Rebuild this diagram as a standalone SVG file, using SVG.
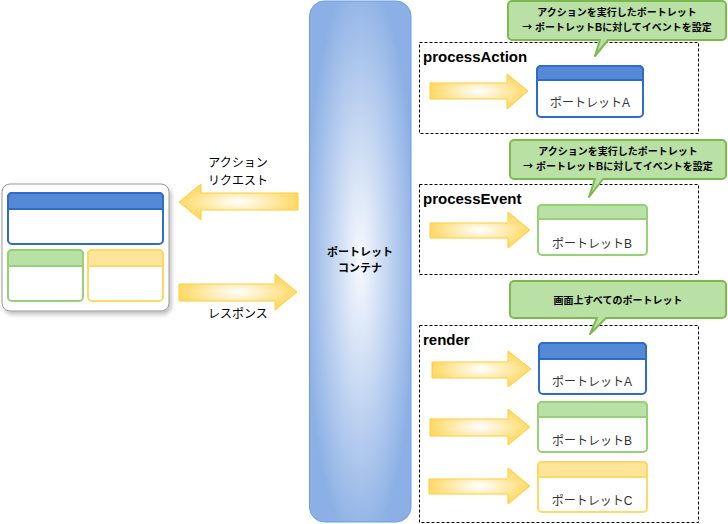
<svg xmlns="http://www.w3.org/2000/svg" width="728" height="524" viewBox="0 0 728 524">
<defs>
<radialGradient id="gCont" cx="0.5" cy="0.5" r="0.55">
<stop offset="0" stop-color="#F8FAFE"/>
<stop offset="1" stop-color="#8CB0E5"/>
</radialGradient>
<radialGradient id="gArr" cx="0.5" cy="0.5" r="0.5">
<stop offset="0" stop-color="#FFFFFF"/>
<stop offset="1" stop-color="#FFD966"/>
</radialGradient>
<filter id="sh" x="-10%" y="-10%" width="120%" height="130%">
<feDropShadow dx="2" dy="3" stdDeviation="2" flood-color="#000" flood-opacity="0.25"/>
</filter>
</defs>
<style>
text{font-family:"Liberation Sans","Noto Sans CJK JP",sans-serif;fill:#000}
.arr{fill:url(#gArr);stroke:#FFCD38;stroke-width:1}
.dash{fill:none;stroke:#000;stroke-dasharray:3 2;stroke-width:1}
.bB{fill:#fff;stroke:#2F6BCB;stroke-width:2}
.hB{fill:#5589D6}
.bG{fill:#fff;stroke:#97D077;stroke-width:2}
.hG{fill:#B9E0A5}
.bY{fill:#fff;stroke:#FFD966;stroke-width:2}
.hY{fill:#FFE599}
.call{fill:#B9E0A5;stroke:#7CBA4D;stroke-width:2;stroke-linejoin:round}
.lbl{font-size:12px;fill:#333}
.sec{font-size:15px;font-weight:bold}
.ct{font-size:10px;font-weight:bold}
.jp{font-family:"Noto Sans CJK JP",sans-serif}
</style>

<g id="browser">
<rect x="2" y="184" width="167" height="127" rx="8" fill="#fff" stroke="#999" stroke-width="1" filter="url(#sh)"/>
<rect x="8" y="193" width="155" height="51" rx="4" class="bB"/>
<path d="M12,193 H159 A4,4 0 0 1 163,197 V209 H8 V197 A4,4 0 0 1 12,193 Z" class="hB" stroke="#2F6BCB" stroke-width="2"/>
<rect x="8" y="250" width="75" height="51" rx="4" class="bG"/>
<path d="M12,250 H79 A4,4 0 0 1 83,254 V266 H8 V254 A4,4 0 0 1 12,250 Z" class="hG" stroke="#97D077" stroke-width="2"/>
<rect x="88" y="250" width="75" height="51" rx="4" class="bY"/>
<path d="M92,250 H159 A4,4 0 0 1 163,254 V266 H88 V254 A4,4 0 0 1 92,250 Z" class="hY" stroke="#FFD966" stroke-width="2"/>
</g>

<g id="container">
<rect x="309.5" y="1" width="101.5" height="521" rx="15" fill="url(#gCont)" stroke="#6D9EE0" stroke-width="1"/>
<text x="360" y="256" text-anchor="middle" font-size="11" font-weight="bold">ポートレット</text>
<text x="360" y="272" text-anchor="middle" font-size="11" font-weight="bold">コンテナ</text>
</g>

<g id="phaseAction">
<rect x="419.5" y="42.5" width="279" height="91" class="dash"/>
<text x="423" y="62" class="sec">processAction</text>
</g>
<g id="phaseEvent">
<rect x="419.5" y="184.5" width="279" height="90" class="dash"/>
<text x="423" y="204" class="sec">processEvent</text>
</g>
<g id="phaseRender">
<rect x="419.5" y="325.5" width="279" height="197" class="dash"/>
<text x="423" y="345" class="sec">render</text>
</g>

<g id="connectors">
<path class="arr" d="M298,193 H201 V184 L179,202 L201,220 V210 H298 Z"/>
<path class="arr" d="M179,284 H275 V274 L297,292 L275,310 V301 H179 Z"/>
<path class="arr" d="M430,83 H507 V74 L528,91 L507,109 V99 H430 Z"/>
<path class="arr" d="M430,223 H508 V212 L530,230 L508,248 V238 H430 Z"/>
<path class="arr" d="M432,362 H508 V351 L531,369 L508,387 V378 H432 Z"/>
<path class="arr" d="M430,419 H508 V409 L530,427 L508,445 V436 H430 Z"/>
<path class="arr" d="M429,479 H508 V468 L530,486 L508,504 V494 H429 Z"/>
</g>

<g id="labels">
<text x="238" y="167" text-anchor="middle" font-size="12" fill="#333">アクション</text>
<text x="238" y="185" text-anchor="middle" font-size="12" fill="#333">リクエスト</text>
<text x="238" y="318" text-anchor="middle" font-size="12" fill="#333">レスポンス</text>
</g>

<g id="callout1">
<path class="call" d="M512,1 H722 A4,4 0 0 1 726,5 V36 A4,4 0 0 1 722,40 H608 L595,56 L600,40 H512 A4,4 0 0 1 508,36 V5 A4,4 0 0 1 512,1 Z"/>
<text x="617" y="16" text-anchor="middle" class="ct">アクションを実行したポートレット</text>
<text x="617" y="31" text-anchor="middle" class="ct"><tspan class="jp">→</tspan> ポートレットBに対してイベントを設定</text>
</g>
<g id="callout2">
<path class="call" d="M514,140 H722 A4,4 0 0 1 726,144 V175 A4,4 0 0 1 722,179 H603 L589,197 L595,179 H514 A4,4 0 0 1 510,175 V144 A4,4 0 0 1 514,140 Z"/>
<text x="618" y="155" text-anchor="middle" class="ct">アクションを実行したポートレット</text>
<text x="618" y="170" text-anchor="middle" class="ct"><tspan class="jp">→</tspan> ポートレットBに対してイベントを設定</text>
</g>
<g id="callout3">
<path class="call" d="M514,281 H722 A4,4 0 0 1 726,285 V314 A4,4 0 0 1 722,318 H606 L590,334 L597,318 H514 A4,4 0 0 1 510,314 V285 A4,4 0 0 1 514,281 Z"/>
<text x="618" y="304" text-anchor="middle" class="ct">画面上すべてのポートレット</text>
</g>

<g id="portletA1">
<rect x="537" y="66" width="106" height="51" rx="4" class="bB"/>
<path d="M541,66 H639 A4,4 0 0 1 643,70 V80 H537 V70 A4,4 0 0 1 541,66 Z" class="hB" stroke="#2F6BCB" stroke-width="2"/>
<text x="590" y="107" text-anchor="middle" class="lbl">ポートレットA</text>
</g>
<g id="portletB1">
<rect x="538" y="205" width="109" height="50" rx="4" class="bG"/>
<path d="M542,205 H643 A4,4 0 0 1 647,209 V219 H538 V209 A4,4 0 0 1 542,205 Z" class="hG" stroke="#97D077" stroke-width="2"/>
<text x="592" y="248" text-anchor="middle" class="lbl">ポートレットB</text>
</g>
<g id="portletA2">
<rect x="539" y="343" width="107" height="51" rx="4" class="bB"/>
<path d="M543,343 H642 A4,4 0 0 1 646,347 V359 H539 V347 A4,4 0 0 1 543,343 Z" class="hB" stroke="#2F6BCB" stroke-width="2"/>
<text x="592" y="386" text-anchor="middle" class="lbl">ポートレットA</text>
</g>
<g id="portletB2">
<rect x="538" y="402" width="109" height="50" rx="4" class="bG"/>
<path d="M542,402 H643 A4,4 0 0 1 647,406 V417 H538 V406 A4,4 0 0 1 542,402 Z" class="hG" stroke="#97D077" stroke-width="2"/>
<text x="592" y="445" text-anchor="middle" class="lbl">ポートレットB</text>
</g>
<g id="portletC">
<rect x="538" y="462" width="109" height="50" rx="4" class="bY"/>
<path d="M542,462 H643 A4,4 0 0 1 647,466 V477 H538 V466 A4,4 0 0 1 542,462 Z" class="hY" stroke="#FFD966" stroke-width="2"/>
<text x="592" y="505" text-anchor="middle" class="lbl">ポートレットC</text>
</g>
</svg>
